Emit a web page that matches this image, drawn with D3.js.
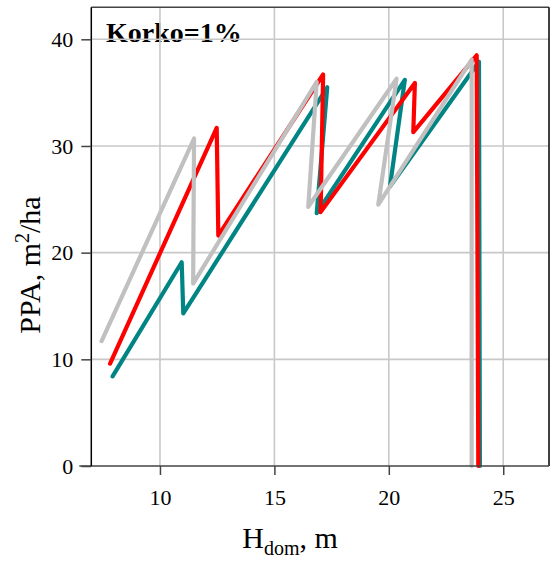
<!DOCTYPE html>
<html>
<head>
<meta charset="utf-8">
<script src="https://cdn.jsdelivr.net/npm/d3@7"></script>
<style>
html,body{margin:0;padding:0;background:#fff;}
svg{display:block;}
text{font-family:"Liberation Serif","Times New Roman",serif;}
</style>
</head>
<body>
<svg id="chart" width="550" height="565"></svg>
<script>
// Data (H_dom in m, PPA in m2/ha)
const tealH = [7.93, 10.95, 11.02, 17.31, 16.85, 20.70, 20.05, 23.94, 23.98];
const tealP = [8.4, 19.1, 14.3, 35.5, 23.7, 36.2, 26.2, 37.9, 0];
const redH  = [7.82, 12.48, 12.55, 17.13, 17.02, 21.14, 21.07, 23.84, 23.91];
const redP  = [9.6, 31.7, 21.6, 36.7, 23.8, 35.9, 31.3, 38.5, 0];
const grayH = [7.45, 11.49, 11.45, 16.85, 16.48, 20.34, 19.54, 23.62, 23.62];
const grayP = [11.7, 30.7, 17.1, 36.0, 24.3, 36.3, 24.5, 38.1, 0];
const xTicks = [10, 15, 20, 25];
const yTicks = [0, 10, 20, 30, 40];
const titleText = "Korko=1%";

const svg = d3.select("#chart");
const L = 91.3, R = 549, T = 7.3, B = 466;
const x = d3.scaleLinear().domain([7, 27]).range([L, R]);
const y = d3.scaleLinear().domain([0, 43]).range([B, T]);

// annotation (drawn under the grid, as in the reference)
svg.append("text").attr("x", 106).attr("y", 42).attr("font-size", 28)
  .attr("font-weight", "bold").attr("fill", "#000").text(titleText);

// grid
const g = svg.append("g");
g.selectAll("line.vx").data(xTicks).join("line")
  .attr("x1", d => x(d)).attr("x2", d => x(d)).attr("y1", T).attr("y2", B)
  .attr("stroke", "#c8c8c8").attr("stroke-width", 1.6);
g.selectAll("line.hy").data(yTicks.filter(d => d > 0)).join("line")
  .attr("y1", d => y(d)).attr("y2", d => y(d)).attr("x1", L).attr("x2", R)
  .attr("stroke", "#c8c8c8").attr("stroke-width", 1.6);

// series
const series = [
  {h: tealH, p: tealP, c: "#008484"},
  {h: redH, p: redP, c: "#ff0000"},
  {h: grayH, p: grayP, c: "#c0c0c0"}
];
const line = d3.line().x(d => x(d[0])).y(d => y(d[1]));
series.forEach(s => {
  svg.append("path").datum(s.h.map((v, i) => [v, s.p[i]]))
    .attr("d", line).attr("fill", "none").attr("stroke", s.c)
    .attr("stroke-width", 4.2).attr("stroke-linejoin", "round").attr("stroke-linecap", "round");
});

// frame
svg.append("line").attr("x1", L).attr("x2", R).attr("y1", T).attr("y2", T).attr("stroke", "#444").attr("stroke-width", 1.5);
svg.append("line").attr("x1", R).attr("x2", R).attr("y1", T).attr("y2", B).attr("stroke", "#000").attr("stroke-width", 1.5);

// axes
const xAxis = d3.axisBottom(x).tickValues(xTicks).tickSize(9).tickPadding(14).tickFormat(d3.format("d"));
const yAxis = d3.axisLeft(y).tickValues(yTicks).tickSize(10).tickPadding(8).tickFormat(d3.format("d"));
const ax = svg.append("g").attr("transform", `translate(0,${B})`).call(xAxis);
const ay = svg.append("g").attr("transform", `translate(${L},0)`).call(yAxis);
ax.select(".domain").attr("stroke", "#444").attr("stroke-width", 1.5).attr("d", `M${L - 12},0H${R}`);
ay.select(".domain").attr("stroke", "#000").attr("stroke-width", 1.5).attr("d", `M0,${T}V${B}`);
[ax, ay].forEach(a => {
  a.selectAll(".tick line").attr("stroke", "#444").attr("stroke-width", 1.5);
  a.selectAll(".tick text").attr("font-family", "Liberation Serif, serif").attr("font-size", 22).attr("fill", "#000");
});

// axis titles
const xt = svg.append("text").attr("x", 290).attr("y", 548).attr("text-anchor", "middle")
  .attr("font-size", 30).attr("fill", "#000");
xt.append("tspan").text("H");
xt.append("tspan").attr("font-size", 20).attr("dy", 7).text("dom");
xt.append("tspan").attr("dy", -7).text(", m");

const yt = svg.append("text").attr("transform", "translate(40,265) rotate(-90)").attr("text-anchor", "middle")
  .attr("font-size", 30).attr("fill", "#000");
yt.append("tspan").text("PPA, m");
yt.append("tspan").attr("font-size", 20).attr("dy", -11).text("2");
yt.append("tspan").attr("dy", 11).text("/ha");
</script>
</body>
</html>
